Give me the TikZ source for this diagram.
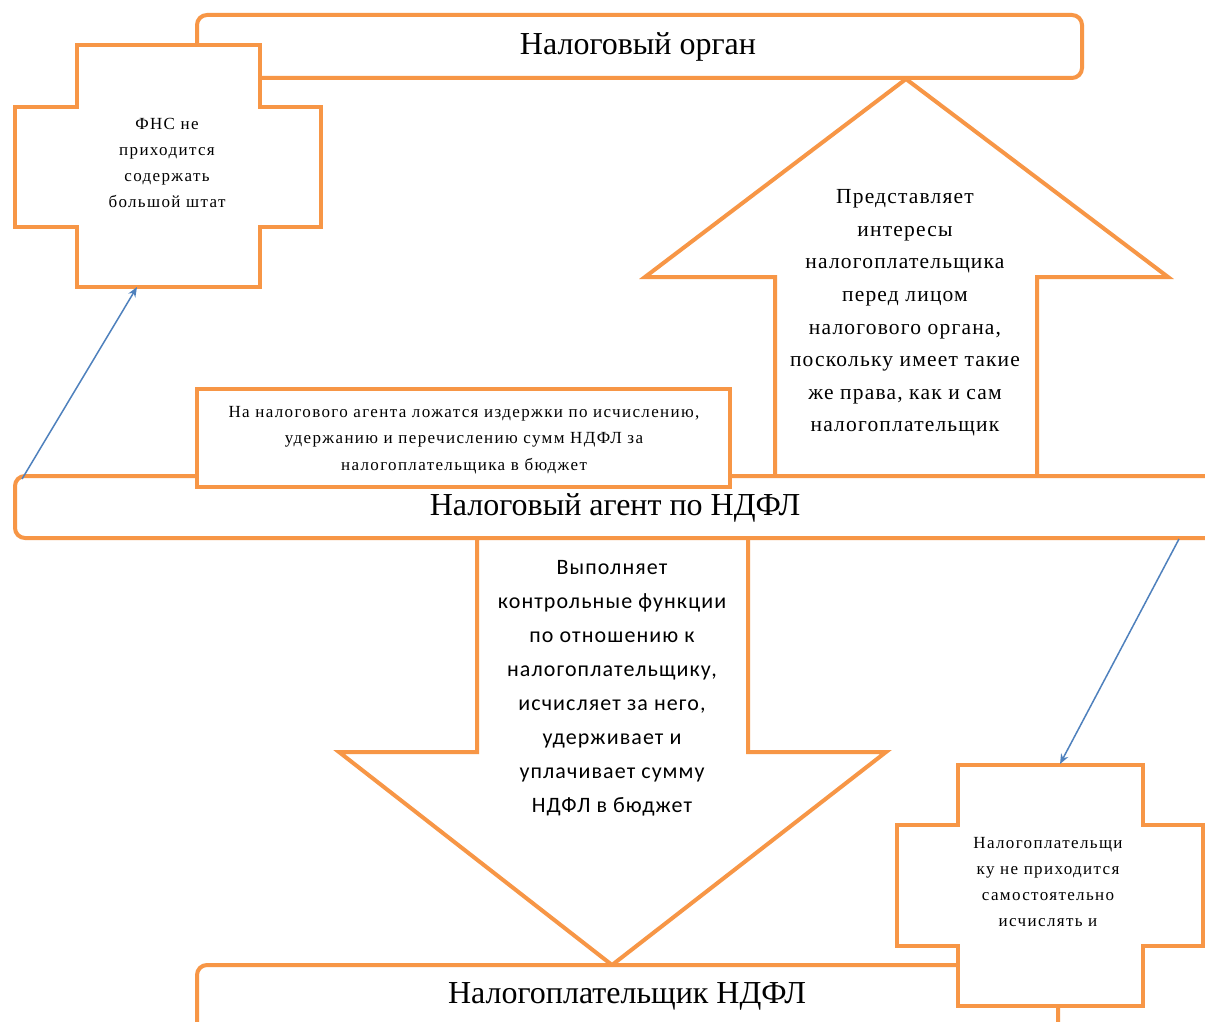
\documentclass[tikz,border=0pt]{standalone}
\usepackage{fontspec}
\setmainfont{Liberation Serif}
\newfontfamily\calfont{Carlito}
\usetikzlibrary{arrows.meta}
\definecolor{orangeC}{HTML}{F79646}
\definecolor{blueC}{HTML}{4F81BD}
\begin{document}
\begin{tikzpicture}[x=1pt,y=-1pt,
  shapeline/.style={draw=orangeC,line width=4pt,fill=white,line join=miter},
  roundbox/.style={shapeline,rounded corners=10pt},
  bluearrow/.style={draw=blueC,line width=1.5pt,-{Stealth[length=10pt,width=8pt]}},
  headtext/.style={inner sep=0pt,font=\fontsize{32}{36}\selectfont},
  smalltext/.style={inner sep=0pt,align=center,font=\fontsize{17}{26.3}\selectfont\addfontfeature{LetterSpace=8}},
  midtext/.style={inner sep=0pt,align=center,font=\fontsize{21.5}{32.6}\selectfont\addfontfeature{LetterSpace=5.5}},
  sanstext/.style={inner sep=0pt,align=center,font=\calfont\fontsize{22}{34}\selectfont\addfontfeature{LetterSpace=5}}]
\clip (0,0) rectangle (1205,1022);
\fill[white] (0,0) rectangle (1205,1022);
% top box
\path[roundbox] (197,15) rectangle (1082,78);
\node[headtext] (organ) at (638,47) {Налоговый орган};
% cross 1
\path[shapeline] (77,45) -- (260,45) -- (260,107) -- (321,107) -- (321,227) -- (260,227)
  -- (260,287) -- (77,287) -- (77,227) -- (15,227) -- (15,107) -- (77,107) -- cycle;
\node[smalltext] (fns) at (167,163) {ФНС не\\приходится\\содержать\\большой штат};
% up arrow
\path[shapeline] (775,476) -- (775,277) -- (645,277) -- (906,79) -- (1168,277) -- (1037,277) -- (1037,476) -- cycle;
\node[midtext] (repr) at (905,313) {Представляет\\интересы\\налогоплательщика\\перед лицом\\налогового органа,\\поскольку имеет такие\\же права, как и сам\\налогоплательщик};
% agent box
\path[roundbox] (15,476) rectangle (1260,538);
\node[headtext] (agent) at (615,508) {Налоговый агент по НДФЛ};
% text box
\path[shapeline] (197,389) rectangle (730,487);
\node[smalltext] (costs) at (464,440) {На налогового агента ложатся издержки по исчислению,\\удержанию и перечислению сумм НДФЛ за\\налогоплательщика в бюджет};
% down arrow
\path[shapeline] (477,538) -- (477,752) -- (339,752) -- (612,965) -- (886,752) -- (748,752) -- (748,538) -- cycle;
\node[sanstext] (ctrl) at (612,688) {Выполняет\\контрольные функции\\по отношению к\\налогоплательщику,\\исчисляет за него,\\удерживает и\\уплачивает сумму\\НДФЛ в бюджет};
% bottom box
\path[roundbox] (197,965) rectangle (1058,1070);
\node[headtext] (payer) at (627,996) {Налогоплательщик НДФЛ};
% cross 2
\path[shapeline] (958,765) -- (1143,765) -- (1143,825) -- (1203,825) -- (1203,946) -- (1143,946)
  -- (1143,1006) -- (958,1006) -- (958,946) -- (897,946) -- (897,825) -- (958,825) -- cycle;
\node[smalltext] (self) at (1048,882) {Налогоплательщи\\ку не приходится\\самостоятельно\\исчислять и};
% blue connectors
\coordinate (agentTL) at (22,479);
\coordinate (fnsB) at (137,287);
\coordinate (agentBR) at (1179,539);
\coordinate (selfT) at (1060,764);
\draw[bluearrow] (agentTL) -- (fnsB);
\draw[bluearrow] (agentBR) -- (selfT);
\end{tikzpicture}
\end{document}
